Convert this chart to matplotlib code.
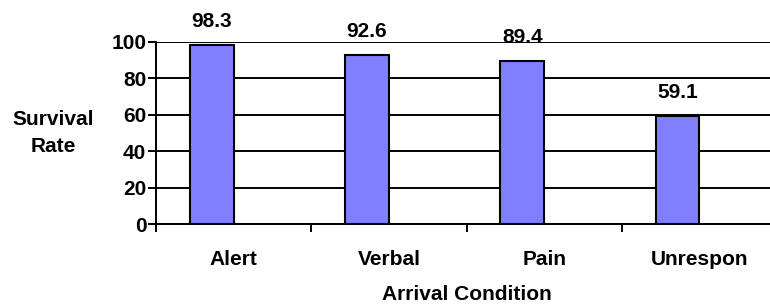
import matplotlib.pyplot as plt
import numpy as np

plt.rcParams['font.family'] = ['Liberation Sans', 'DejaVu Sans']
plt.rcParams['font.weight'] = 'bold'

# data
conditions = ["Alert", "Verbal", "Pain", "Unrespon"]
survival = [98.3, 92.6, 89.4, 59.1]
yticks = [0, 20, 40, 60, 80, 100]

fs = 15

fig = plt.figure(figsize=(7.7, 3.06), dpi=100)
# the plot area runs past the right edge of the picture, as in the original
ax = fig.add_axes([156 / 770, 1 - 224 / 306, 4 * 155.3 / 770, (224 - 41.7) / 306])

x = np.arange(len(conditions))
bar_w = 0.283
ax.bar(x - 0.142, survival, width=bar_w, color="#8080FF", edgecolor="black",
       linewidth=1.5, zorder=3)

for xi, v in zip(x, survival):
    ax.annotate(f"{v}", (xi - 0.142, v), xytext=(0, 17), textcoords="offset points",
                ha="center", va="center", fontsize=fs, fontweight="bold", zorder=4)

ax.set_xlim(-0.5, len(conditions) - 0.5)
ax.set_ylim(0, 100)
ax.set_yticks(yticks)
ax.yaxis.grid(True, color="black", linewidth=1.4, zorder=0)
ax.set_axisbelow(True)

# category boundaries carry the ticks, labels sit in the middle
ax.set_xticks(np.arange(len(conditions) + 1) - 0.5)
ax.set_xticklabels([])
ax.set_xticks(x, minor=True)
ax.set_xticklabels(conditions, minor=True, fontsize=fs, fontweight="bold")
ax.tick_params(axis="x", which="minor", length=0, pad=19)
ax.tick_params(axis="x", which="major", length=6, width=1.4, direction="out")
ax.tick_params(axis="y", length=6, width=1.4, direction="out", labelsize=fs, pad=1)

for s in ["top", "right"]:
    ax.spines[s].set_visible(False)
for s in ["left", "bottom"]:
    ax.spines[s].set_linewidth(1.4)

fig.text(53 / 770, 1 - 133 / 306, "Survival\nRate", ha="center", va="center",
         fontsize=fs, fontweight="bold", linespacing=1.5)
fig.text(466.6 / 770, 1 - 295 / 306, "Arrival Condition", ha="center", va="center",
         fontsize=fs, fontweight="bold")

plt.savefig("out.png", dpi=100)
